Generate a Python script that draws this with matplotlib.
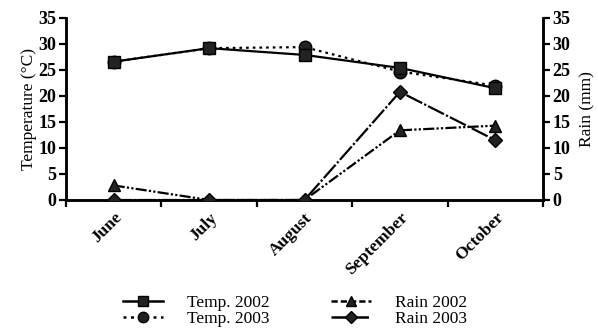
import matplotlib
matplotlib.use("Agg")
import matplotlib.pyplot as plt
from matplotlib.lines import Line2D

months = ["June", "July", "August", "September", "October"]
temp_2002 = [26.6, 29.2, 27.9, 25.4, 21.5]
temp_2003 = [26.6, 29.2, 29.4, 24.7, 22.0]
rain_2002 = [2.8, 0.0, 0.0, 13.4, 14.3]
rain_2003 = [0.0, 0.0, 0.0, 20.8, 11.5]
yticks = [0, 5, 10, 15, 20, 25, 30, 35]

plt.rcParams['font.family'] = ['Liberation Serif', 'DejaVu Serif']
plt.rcParams['font.size'] = 11

fig = plt.figure(figsize=(5.98, 3.30), dpi=100)
ax = fig.add_axes([66/598, 1-200/330, (543-66)/598, (200-18)/330])
ax2 = ax.twinx()

x = list(range(len(months)))
mc = '#222222'
ax.plot(x, temp_2003, linestyle=(0, (1.2, 1.8)), color='black', lw=1.6,
        marker='o', ms=9, mfc=mc, mec='black', zorder=3)
ax.plot(x, temp_2002, linestyle='-', color='black', lw=1.6,
        marker='s', ms=9, mfc=mc, mec='black', zorder=4)
ax2.plot(x, rain_2002, linestyle=(0, (5, 1, 1, 1, 1, 1)), color='black', lw=1.6,
         marker='^', ms=9, mfc=mc, mec='black', zorder=3)
ax2.plot(x, rain_2003, linestyle=(0, (8, 1, 1, 1)), color='black', lw=1.6,
         marker='D', ms=7.5, mfc=mc, mec='black', zorder=4)

for a in (ax, ax2):
    a.set_ylim(0, 35)
    a.set_yticks(yticks)
    a.set_xlim(-0.5, 4.5)
    for s in a.spines.values():
        s.set_linewidth(1.8)
    a.spines['top'].set_visible(False)
    a.tick_params(width=1.6, length=5, labelsize=13, pad=2)
    for t in a.get_yticklabels():
        t.set_fontweight('bold')

ax.set_xticks([i - 0.5 for i in range(len(months) + 1)])
ax.set_xticklabels([])
ax.set_xticks(x, minor=True)
ax.set_xticklabels(months, minor=True, rotation=45, ha='right', va='top',
                   rotation_mode='anchor', fontsize=12.5, fontweight='bold')
ax.tick_params(axis='x', which='minor', length=0, pad=7)
ax.set_ylabel("Temperature (°C)", fontsize=12.5, labelpad=1)
ax2.set_ylabel("Rain (mm)", fontsize=12.5, labelpad=6)

handles = [
    Line2D([], [], color='black', lw=1.8, marker='s', ms=7.5, mfc=mc, mec='black'),
    Line2D([], [], color='black', lw=1.8, linestyle=(0, (1.2, 1.8)), marker='o', ms=7.5, mfc=mc, mec='black'),
    Line2D([], [], color='black', lw=1.8, linestyle=(0, (2.5, 1.2)), marker='^', ms=7.5, mfc=mc, mec='black'),
    Line2D([], [], color='black', lw=1.8, linestyle=(0, (6, 1, 1, 1)), marker='D', ms=6.5, mfc=mc, mec='black'),
]
labels = ["Temp. 2002", "Temp. 2003", "Rain 2002", "Rain 2003"]
fig.legend(handles, labels, loc='lower left', bbox_to_anchor=(123/598, 3/330), ncol=2,
           frameon=False, fontsize=12.5, handlelength=2.3, columnspacing=3.5,
           labelspacing=0.0, handletextpad=1.4, borderpad=0, borderaxespad=0)

fig.savefig("out.png", dpi=100)
